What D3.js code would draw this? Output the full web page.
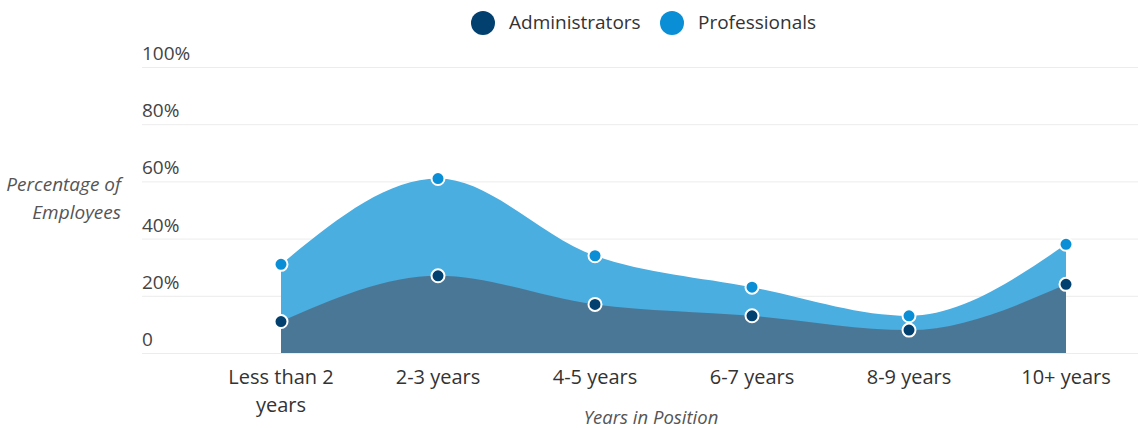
<!DOCTYPE html>
<head>
<meta charset="utf-8">
<title>Years in Position</title>
<script src="https://cdn.jsdelivr.net/npm/d3@7"></script>
<style>
    body { margin: 0; background: #fff; font-family: "Open Sans", sans-serif; }
</style>
</head>
<body>
<svg id="chart" width="1138" height="428"></svg>
<script>
    // data
    var categories = ["Less than 2 years", "2-3 years", "4-5 years", "6-7 years", "8-9 years", "10+ years"];
    var administrators = [11, 27, 17, 13, 8, 24];
    var professionals = [31, 61, 34, 23, 13, 38];
    var yTicks = [0, 20, 40, 60, 80, 100];
    var seriesNames = ["Administrators", "Professionals"];

    var markerColors = ["#02416f", "#0a8fd6"];
    var fillColors = ["#4b7797", "#4aaee0"];

    var svg = d3.select("#chart");

    var x = d3.scalePoint()
        .domain(categories)
        .range([281, 1066]);

    var y = d3.scaleLinear()
        .domain([0, 100])
        .range([353, 67]);

    // grid lines + labels
    var grid = svg.append("g");
    grid.selectAll("line")
        .data(yTicks)
        .enter()
        .append("line")
        .attr("x1", 142)
        .attr("x2", 1138)
        .attr("y1", d => y(d) + 0.5)
        .attr("y2", d => y(d) + 0.5)
        .attr("stroke", "#ececec")
        .attr("stroke-width", 1);

    grid.selectAll("text")
        .data(yTicks)
        .enter()
        .append("text")
        .attr("x", 142)
        .attr("y", d => y(d) - 7)
        .style("font-size", "19px")
        .style("fill", "#444")
        .text(d => d == 0 ? "0" : d + "%");

    // y title
    svg.append("text")
        .attr("text-anchor", "end")
        .style("font-size", "19px")
        .style("font-style", "italic")
        .style("fill", "#555")
        .selectAll("tspan")
        .data(["Percentage of", "Employees"])
        .enter()
        .append("tspan")
        .attr("x", 121)
        .attr("y", (d, i) => 191 + i * 28)
        .text(d => d);

    // areas
    var area = d3.area()
        .x((d, i) => x(categories[i]))
        .y0(y(0))
        .y1(d => y(d))
        .curve(d3.curveMonotoneX);

    var allSeries = [administrators, professionals];
    var order = [1, 0]; // professionals first, admins on top

    order.forEach(function(s) {
        svg.append("path")
            .datum(allSeries[s])
            .attr("d", area)
            .attr("fill", fillColors[s]);
    });

    order.forEach(function(s) {
        svg.append("g")
            .selectAll("circle")
            .data(allSeries[s])
            .enter()
            .append("circle")
            .attr("cx", (d, i) => x(categories[i]))
            .attr("cy", d => y(d))
            .attr("r", 6.5)
            .attr("fill", markerColors[s])
            .attr("stroke", "#fff")
            .attr("stroke-width", 2);
    });

    // x labels
    var xl = svg.append("g");
    categories.forEach(function(c) {
        var lines = c == "Less than 2 years" ? ["Less than 2", "years"] : [c];
        var t = xl.append("text")
            .attr("text-anchor", "middle")
            .style("font-size", "20px")
            .style("fill", "#333");
        lines.forEach(function(l, i) {
            t.append("tspan")
                .attr("x", x(c))
                .attr("y", 384 + i * 28)
                .text(l);
        });
    });

    // x title
    svg.append("text")
        .attr("x", 651)
        .attr("y", 424)
        .attr("text-anchor", "middle")
        .style("font-size", "18.5px")
        .style("font-style", "italic")
        .style("fill", "#555")
        .text("Years in Position");

    // legend
    var legendX = [483, 672];
    var legend = svg.append("g");
    seriesNames.forEach(function(n, i) {
        legend.append("circle")
            .attr("cx", legendX[i])
            .attr("cy", 23)
            .attr("r", 12)
            .attr("fill", markerColors[i]);
        legend.append("text")
            .attr("x", legendX[i] + 26)
            .attr("y", 29)
            .style("font-size", "19px")
            .style("fill", "#333")
            .text(n);
    });
</script>
</body>
</html>
